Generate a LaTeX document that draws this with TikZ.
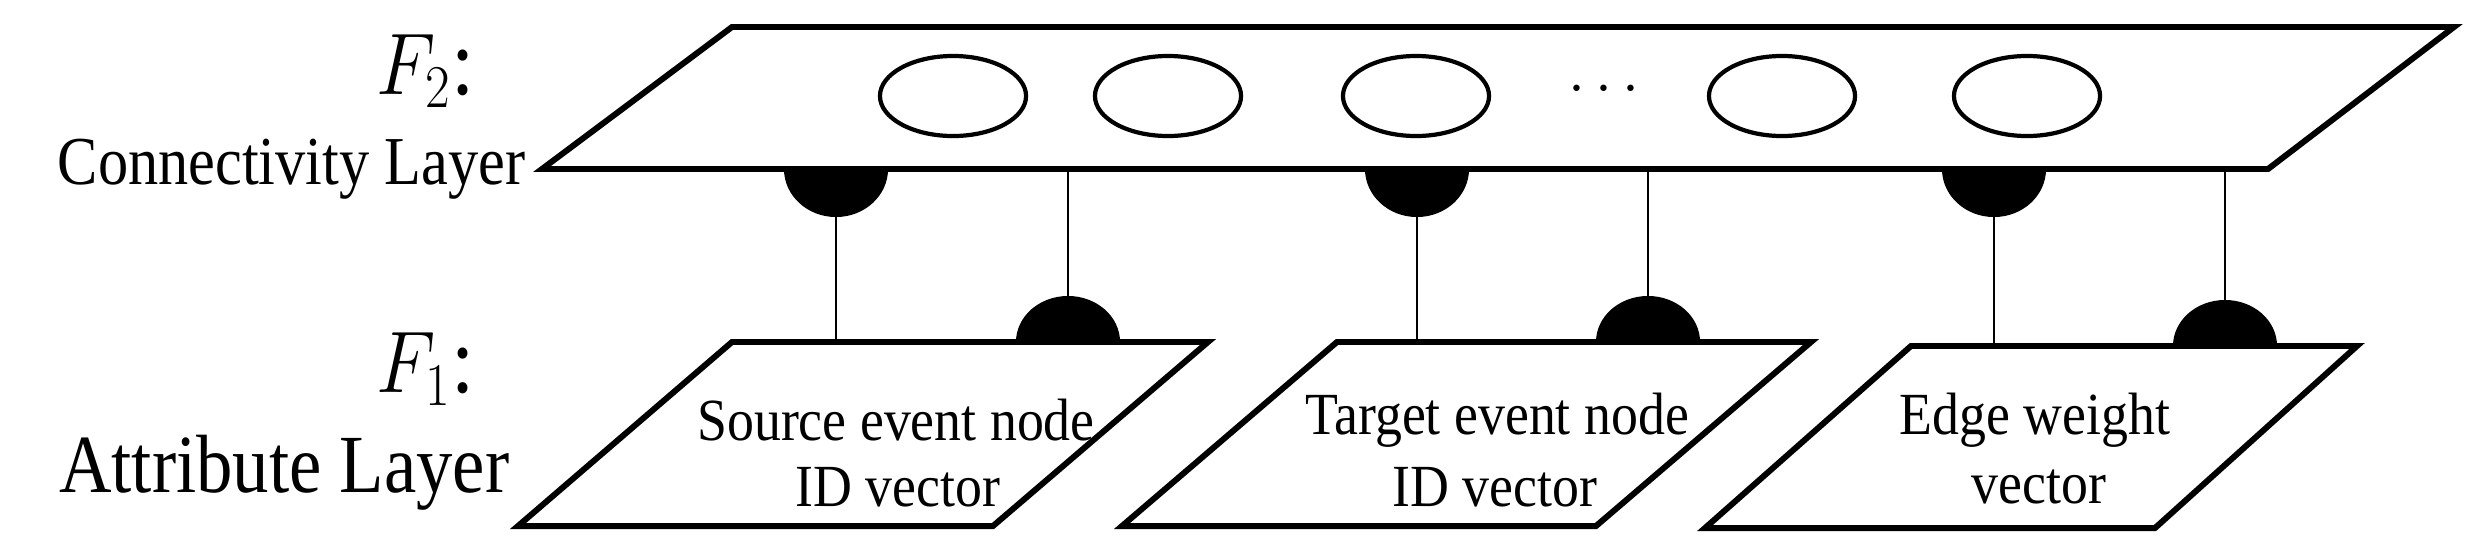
\documentclass[tikz,border=0pt]{standalone}
\usepackage{fontspec}
\setmainfont{Liberation Serif}
\begin{document}
\begin{tikzpicture}[x=0.01cm,y=-0.01cm,
 plate/.style={draw,line width=1.7pt,line join=miter,fill=white},
 unit/.style={draw,line width=1.2pt,ellipse},
 conn/.style={line width=0.8pt},
 txt/.style={font=\fontsize{17}{20}\selectfont,xscale=0.9,inner sep=0},
 lbl/.style={inner sep=0,anchor=base east,xscale=0.88}]
\useasboundingbox (0,0) rectangle (2479,551);
% top plate
\draw[plate] (732,27) -- (2454,27) -- (2268,169) -- (542,169) -- cycle;
\foreach \n/\x in {a/953,b/1168,c/1416,d/1782,e/2027}
  \draw[line width=1.2pt] (\x,96) ellipse [x radius=0.73cm, y radius=0.4cm];
\node[font=\fontsize{17}{20}\selectfont] (dots) at (1604,90) {$\cdots$};
% lower plates
\draw[plate] (732,342) -- (1208,342) -- (993,526) -- (518,526) -- cycle;
\draw[plate] (1337,342) -- (1811,342) -- (1596,526) -- (1122,526) -- cycle;
\draw[plate] (1911,346) -- (2357,346) -- (2155,528) -- (1705,528) -- cycle;
% connections
\foreach \i/\a/\b/\yb in {1/836/1068/342,2/1417/1648/342,3/1994/2225/346}{
  \coordinate (ta\i) at (\a,169);
  \coordinate (ba\i) at (\a,\yb);
  \coordinate (tb\i) at (\b,169);
  \coordinate (bb\i) at (\b,\yb);
  \fill ([xshift=-0.52cm]ta\i) arc[start angle=180,end angle=360,x radius=0.52cm,y radius=0.48cm];
  \draw[conn] ([yshift=-0.47cm]ta\i) -- (ba\i);
  \fill ([xshift=-0.52cm]bb\i) arc[start angle=180,end angle=0,x radius=0.52cm,y radius=0.46cm];
  \draw[conn] (tb\i) -- ([yshift=0.45cm]bb\i);
}
% texts
\node[txt] (s1) at (896,420) {Source event node};
\node[txt] (s2) at (898,487) {ID vector};
\node[txt] (t1) at (1497,420) {Target event node};
\node[txt] (t2) at (1495,487) {ID vector};
\node[txt] (e1) at (2035,420) {Edge weight};
\node[txt] (e2) at (2039,487) {vector};
% left labels
\node[lbl,font=\fontsize{27}{30}\selectfont] (f2) at (475,94) {$F_2$:};
\node[lbl,font=\fontsize{19.5}{22}\selectfont] (cl) at (526,184) {Connectivity Layer};
\node[lbl,font=\fontsize{27}{30}\selectfont] (f1) at (475,392) {$F_1$:};
\node[lbl,font=\fontsize{23.5}{26}\selectfont] (al) at (510,492) {Attribute Layer};
\end{tikzpicture}
\end{document}
